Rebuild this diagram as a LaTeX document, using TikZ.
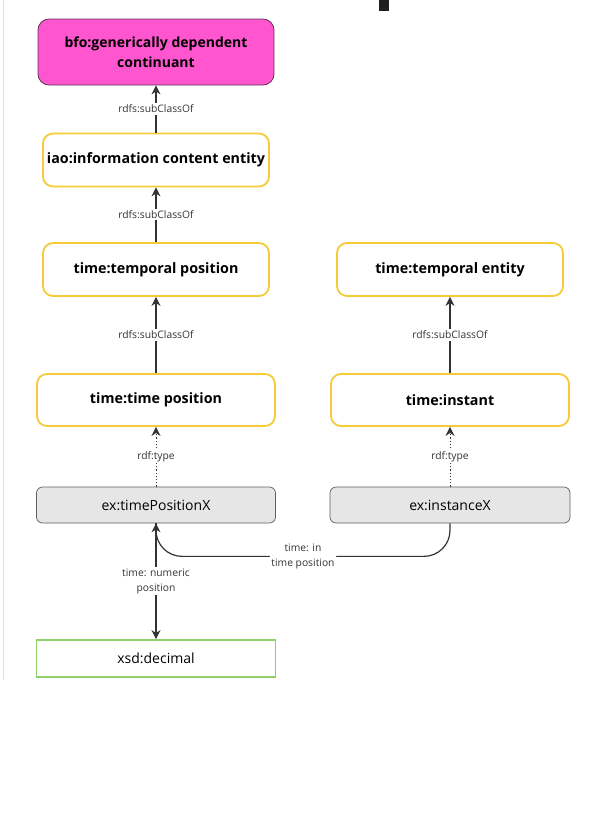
\documentclass[tikz,border=0pt]{standalone}
\usepackage{fontspec}
\setmainfont{Open Sans}
\usepackage{tikz}
\usetikzlibrary{arrows,arrows.meta,shapes,positioning}
\usepackage{xcolor}
\definecolor{ogpink}{RGB}{255,85,206}
\definecolor{ogpinkdark}{RGB}{95,55,85}
\definecolor{ogyellow}{RGB}{245,203,55}
\definecolor{oggrey}{RGB}{230,230,230}
\definecolor{oggreydark}{RGB}{95,95,95}
\definecolor{oggreen}{RGB}{145,208,105}
\definecolor{ogline}{RGB}{51,51,51}
\tikzstyle{topclass} = [rectangle, rounded corners=11pt, minimum width=236pt, minimum height=66pt, align=center, draw=ogpinkdark, fill=ogpink, line width=0.8pt, font=\fontsize{14}{20}\selectfont\bfseries]
\tikzstyle{class} = [rectangle, rounded corners=10pt, minimum width=226pt, minimum height=53pt, align=center, draw=ogyellow, fill=white, line width=1.8pt, font=\fontsize{14.3}{17}\selectfont\bfseries]
\tikzstyle{individual} = [rectangle, rounded corners=6pt, minimum width=239pt, minimum height=36pt, align=center, draw=oggreydark, fill=oggrey, line width=0.7pt, font=\fontsize{14}{17}\selectfont]
\tikzstyle{literal} = [rectangle, minimum width=239pt, minimum height=37pt, align=center, draw=oggreen, fill=white, line width=1.8pt, font=\fontsize{14}{17}\selectfont]
\tikzstyle{arrow} = [line width=1.2pt,-{Stealth[length=9pt,width=9pt]},color=ogline]
\tikzstyle{typearrow} = [arrow, dotted, line width=0.9pt]
\tikzstyle{lbl} = [fill=white, inner sep=1.5pt, align=center, text=ogline, font=\fontsize{10.3}{15}\selectfont]

\begin{document}
\begin{tikzpicture}[node distance=108pt]
\useasboundingbox (0,0) rectangle (615pt,-820pt);
\draw [black!12, line width=1pt] (3.5pt,0) -- (3.5pt,-680pt);
\fill [black!88] (379pt,0) rectangle (389pt,-11pt);
\node (bfo) [topclass] at (156pt,-52pt) {bfo:generically dependent\\continuant};
\node (iao) [class, below of=bfo] {iao:information content entity};
\node (temppos) [class, below of=iao, node distance=109.5pt] {time:temporal position};
\node (tempent) [class, right of=temppos, node distance=294pt] {time:temporal entity};
\node (timepos) [class, below of=temppos, node distance=130.5pt, minimum width=238pt, minimum height=52pt] {time:time position};
\node (instant) [class, below of=tempent, node distance=130.5pt, minimum width=238pt, minimum height=52pt] {time:instant};
\node (tpx) [individual, below of=timepos, node distance=105pt] {ex:timePositionX};
\node (instx) [individual, below of=instant, node distance=105pt, minimum width=240pt] {ex:instanceX};
\node (decimal) [literal, below of=tpx, node distance=153.5pt] {xsd:decimal};
\draw [arrow] (iao) -- node [lbl] {rdfs:subClassOf} (bfo);
\draw [arrow] (temppos) -- node [lbl] {rdfs:subClassOf} (iao);
\draw [arrow] (timepos) -- node [lbl] {rdfs:subClassOf} (temppos);
\draw [arrow] (instant) -- node [lbl] {rdfs:subClassOf} (tempent);
\draw [typearrow] (tpx) -- node [lbl] {rdf:type} (timepos);
\draw [typearrow] (instx) -- node [lbl] {rdf:type} (instant);
\draw [arrow] (tpx) -- node [lbl] {time: numeric\\position} (decimal);
\draw [arrow, rounded corners=26pt] (instx.south) |- ([yshift=-33pt]tpx.south) node [lbl, pos=0.75] {time: in\\time position} -- (tpx.south);
\end{tikzpicture}
\end{document}
